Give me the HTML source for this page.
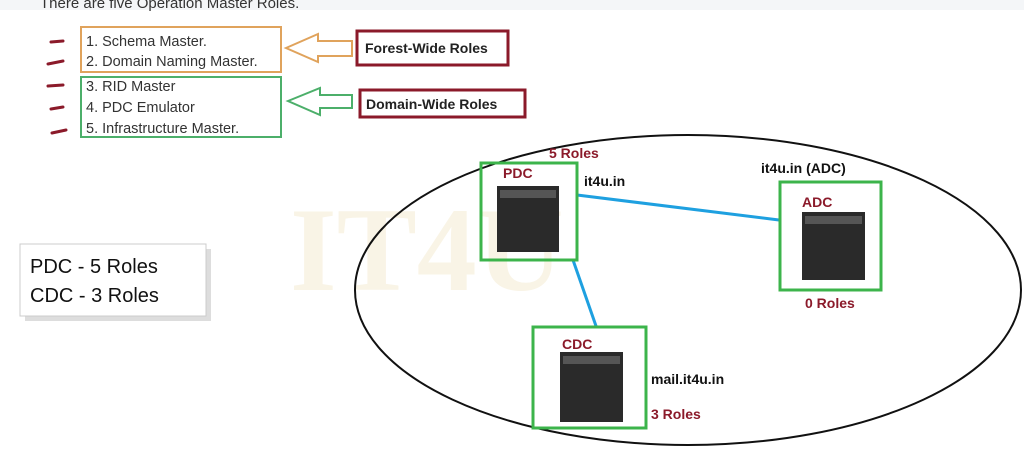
<!DOCTYPE html>
<html><head><style>
body{margin:0;width:1024px;height:458px;background:#fff;overflow:hidden;font-family:"Liberation Sans",sans-serif}
</style></head><body>
<svg width="1024" height="458" xmlns="http://www.w3.org/2000/svg" font-family="Liberation Sans, sans-serif">
<rect width="1024" height="10" fill="#f4f6f8"/>
<text x="40" y="8" font-size="15" fill="#333">There are five Operation Master Roles.</text>
<g stroke="#8b1a2a" stroke-width="3" stroke-linecap="round">
<line x1="51" y1="42" x2="63" y2="41"/><line x1="48" y1="64" x2="63" y2="61"/>
<line x1="48" y1="86" x2="63" y2="85"/><line x1="51" y1="109" x2="63" y2="107"/>
<line x1="52" y1="133" x2="66" y2="130"/></g>
<rect x="81" y="27" width="200" height="45" fill="none" stroke="#e0a35c" stroke-width="2"/>
<rect x="81" y="77" width="200" height="60" fill="none" stroke="#4caf6a" stroke-width="2"/>
<g font-size="14.5" fill="#333">
<text x="86" y="46">1. Schema Master.</text><text x="86" y="66">2. Domain Naming Master.</text>
<text x="86" y="91">3. RID Master</text><text x="86" y="112">4. PDC Emulator</text><text x="86" y="133">5. Infrastructure Master.</text></g>
<polygon points="286,48 318,34 318,41 352,41 352,56 318,56 318,62" fill="#fff" stroke="#e0a35c" stroke-width="2"/>
<polygon points="288,101 320,88 320,95 352,95 352,108 320,108 320,115" fill="#fff" stroke="#4caf6a" stroke-width="2"/>
<rect x="357" y="31" width="151" height="34" fill="#fff" stroke="#8b1a2a" stroke-width="3"/>
<text x="365" y="53" font-size="14" font-weight="bold" fill="#222">Forest-Wide Roles</text>
<rect x="360" y="90" width="165" height="27" fill="#fff" stroke="#8b1a2a" stroke-width="3"/>
<text x="366" y="109" font-size="14" font-weight="bold" fill="#222">Domain-Wide Roles</text>
<text x="290" y="290" font-size="120" font-family="Liberation Serif" font-weight="bold" fill="#f9f4e6">IT4U</text>
<ellipse cx="688" cy="290" rx="333" ry="155" fill="none" stroke="#111" stroke-width="2"/>
<rect x="22" y="246" width="186" height="72" fill="#ddd" transform="translate(3,3)"/>
<rect x="20" y="244" width="186" height="72" fill="#fff" stroke="#ccc"/>
<text x="30" y="273" font-size="20" fill="#111">PDC - 5 Roles</text>
<text x="30" y="302" font-size="20" fill="#111">CDC - 3 Roles</text>
<line x1="577" y1="195" x2="779" y2="220" stroke="#1ea0e0" stroke-width="3"/>
<line x1="573" y1="260" x2="596" y2="326" stroke="#1ea0e0" stroke-width="3"/>
<g fill="none" stroke="#3cb44b" stroke-width="3">
<rect x="481" y="163" width="96" height="97"/><rect x="780" y="182" width="101" height="108"/><rect x="533" y="327" width="113" height="101"/></g>
<g fill="#2a2a2a">
<rect x="497" y="186" width="62" height="66"/><rect x="802" y="212" width="63" height="68"/><rect x="560" y="352" width="63" height="70"/></g>
<g fill="#555"><rect x="500" y="190" width="56" height="8"/><rect x="805" y="216" width="57" height="8"/><rect x="563" y="356" width="57" height="8"/></g>
<g font-size="14" font-weight="bold" fill="#8b1a2a">
<text x="549" y="158">5 Roles</text><text x="503" y="178">PDC</text><text x="802" y="207">ADC</text>
<text x="805" y="308">0 Roles</text><text x="562" y="349">CDC</text><text x="651" y="419">3 Roles</text></g>
<g font-size="14" font-weight="bold" fill="#111">
<text x="584" y="186">it4u.in</text><text x="761" y="173">it4u.in (ADC)</text><text x="651" y="384">mail.it4u.in</text></g>
</svg>
</body></html>
